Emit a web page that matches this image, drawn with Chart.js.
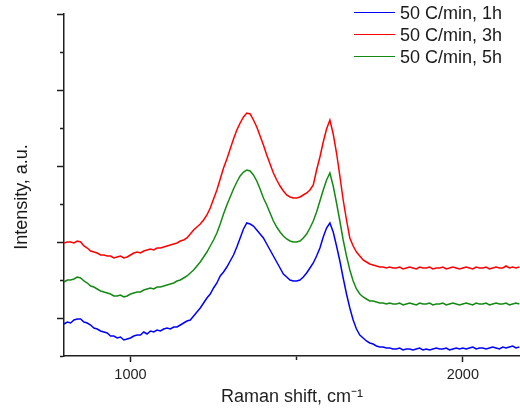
<!DOCTYPE html>
<html>
<head>
<meta charset="utf-8">
<script src="https://cdn.jsdelivr.net/npm/chart.js@4.4.1/dist/chart.umd.min.js"></script>
<style>
  html, body { margin: 0; padding: 0; background: #fff; }
  #wrap { position: relative; width: 520px; height: 417px; overflow: hidden; font-family: "Liberation Sans", Arial, sans-serif; color: #1a1a1a; }
  canvas { position: absolute; left: 0; top: 0; }
  .ytitle { position: absolute; left: 21px; top: 197px; width: 200px; height: 18px; line-height: 18px; font-size: 18px; text-align: center; white-space: nowrap; transform: translate(-50%, -50%) rotate(-90deg); }
  .leg { position: absolute; left: 354px; height: 18px; width: 170px; }
  .leg .ln { position: absolute; left: 0; top: 8px; width: 41px; height: 0; border-top: 1.6px solid; }
  .leg .tx { position: absolute; left: 46px; top: 0; line-height: 18px; font-size: 18px; white-space: nowrap; }
</style>
</head>
<body>
<div id="wrap">
  <canvas id="c" width="520" height="417"></canvas>
  <div class="ytitle">Intensity, a.u.</div>
  <div id="legend"></div>
</div>
<script>
// Raman shift (cm-1)
const ramanShift = [
  800,810,820,830,840,850,860,870,880,890,
  900,910,920,930,940,950,960,970,980,990,
  1000,1010,1020,1030,1040,1050,1060,1070,1080,1090,
  1100,1110,1120,1130,1140,1150,1160,1170,1180,1190,
  1200,1210,1220,1230,1240,1250,1260,1270,1280,1290,
  1300,1310,1320,1330,1340,1350,1360,1370,1380,1390,
  1400,1410,1420,1430,1440,1450,1460,1470,1480,1490,
  1500,1510,1520,1530,1540,1550,1560,1570,1580,1590,
  1600,1610,1620,1630,1640,1650,1660,1670,1680,1690,
  1700,1710,1720,1730,1740,1750,1760,1770,1780,1790,
  1800,1810,1820,1830,1840,1850,1860,1870,1880,1890,
  1900,1910,1920,1930,1940,1950,1960,1970,1980,1990,
  2000,2010,2020,2030,2040,2050,2060,2070,2080,2090,
  2100,2110,2120,2130,2140,2150,2160,2170
];
// Intensity (a.u., stacked offsets as in the figure)
const int1h = [
  32,34,33,36,37,37,34,33,31,28,
  27,25,24,23,20,20,18,19,16,17,
  18,20,21,21,24,22,25,24,26,25,
  27,28,27,29,29,31,33,35,36,40,
  44,48,53,58,62,68,73,80,84,89,
  95,101,109,118,127,133,132,130,126,122,
  118,112,106,100,94,88,82,79,76,75,
  75,76,79,83,88,93,100,108,119,128,
  133,124,110,95,78,62,48,36,27,21,
  18,15,13,12,10,9,9,8,8,7,
  7,8,6,7,7,6,7,8,6,7,
  6,7,8,7,7,8,6,7,8,7,
  8,7,8,9,7,8,8,7,8,9,
  8,7,9,8,9,10,8,9
];
const int3h = [
  113,114,114,113,115,114,110,108,105,104,
  103,101,101,100,100,98,99,100,98,99,
  101,103,104,103,105,106,107,106,108,108,
  109,110,111,112,113,115,116,118,122,126,
  129,132,136,141,148,157,166,177,188,197,
  207,217,226,233,239,243,242,236,229,220,
  211,201,192,183,176,170,165,161,159,158,
  158,159,161,163,166,171,186,199,214,227,
  236,222,203,180,156,136,118,110,104,100,
  96,94,92,91,90,89,89,88,89,88,
  88,89,87,88,89,88,87,89,88,88,
  89,87,88,88,89,87,88,89,88,87,
  88,89,88,87,89,88,88,89,87,88,
  89,88,88,90,88,89,88,89
];
const int5h = [
  74,76,76,77,79,78,75,73,70,69,
  67,65,64,63,62,60,60,61,59,60,
  62,63,64,64,66,67,68,67,69,69,
  70,71,72,73,75,76,78,80,83,86,
  90,94,99,104,110,116,123,132,142,151,
  159,167,174,180,184,186,185,181,175,167,
  158,151,143,135,129,124,120,117,115,114,
  114,115,118,122,128,135,144,155,166,176,
  183,170,153,135,116,100,86,75,67,62,
  59,57,55,55,54,53,53,52,53,52,
  52,53,51,52,53,52,51,53,52,52,
  53,51,52,52,53,51,52,53,52,51,
  52,53,52,51,53,52,52,53,51,52,
  53,52,52,53,51,52,53,52
];
const seriesLabels = ['50 C/min, 1h', '50 C/min, 3h', '50 C/min, 5h'];
const seriesColors = ['#0000ff', '#ff0000', '#148a14'];
const xTickValues = [1000, 1500, 2000];
const xTickLabels = ['1000', '', '2000'];
const xMinorTicks = [1500];
const yTickValues = [0, 38, 76, 114, 152, 190, 228, 266, 304, 342];
const yMajorTicks = [38, 114, 190, 266, 342];

const seriesData = [int1h, int3h, int5h];
const datasets = seriesData.map((arr, k) => ({
  label: seriesLabels[k],
  data: ramanShift.map((x, i) => ({ x: x, y: arr[i] })),
  borderColor: seriesColors[k],
  borderWidth: 1.5,
  pointRadius: 0,
  tension: 0,
  fill: false
}));

const FONT = '"Liberation Sans", Arial, sans-serif';
const AX = '#1f1f1f';

new Chart(document.getElementById('c'), {
  type: 'line',
  data: { datasets: datasets },
  options: {
    responsive: false,
    animation: false,
    layout: { padding: { top: 14, right: 0, left: 0, bottom: 0 } },
    plugins: { legend: { display: false }, tooltip: { enabled: false } },
    scales: {
      x: {
        type: 'linear', min: 800, max: 2172,
        afterBuildTicks: s => { s.ticks = xTickValues.map(v => ({ value: v })); },
        afterFit: s => { s.height = 61; },
        ticks: {
          autoSkip: false, maxRotation: 0, padding: 4, color: AX,
          font: { family: FONT, size: 14.5 },
          callback: (v) => { const i = xTickValues.indexOf(v); return i >= 0 ? xTickLabels[i] : ''; }
        },
        grid: {
          drawOnChartArea: false, drawTicks: true, tickLength: 6, tickWidth: 1.5, tickColor: AX,
          tickBorderDash: ctx => (ctx.tick && xMinorTicks.includes(ctx.tick.value)) ? [3.5, 20] : []
        },
        border: { display: true, color: AX, width: 1.5 },
        title: { display: true, text: 'Raman shift, cm\u207B\u00B9', color: AX, font: { family: FONT, size: 18 }, padding: { top: 0, bottom: 9 } }
      },
      y: {
        min: 0, max: 342,
        afterBuildTicks: s => { s.ticks = yTickValues.map(v => ({ value: v })); },
        afterFit: s => { s.width = 64; },
        ticks: { display: false },
        grid: {
          drawOnChartArea: false, drawTicks: true, tickLength: 7, tickWidth: 1.5, tickColor: AX,
          tickBorderDash: ctx => (ctx.tick && !yMajorTicks.includes(ctx.tick.value)) ? [0, 3, 4, 20] : []
        },
        border: { display: true, color: AX, width: 1.5 }
      }
    }
  }
});

// legend (overlaid inside the plot, top right)
const legendRows = [13, 35, 57];
const legend = document.getElementById('legend');
seriesLabels.forEach((lab, k) => {
  const row = document.createElement('div');
  row.className = 'leg';
  row.style.top = (legendRows[k] - 9) + 'px';
  const ln = document.createElement('div');
  ln.className = 'ln';
  ln.style.borderTopColor = seriesColors[k];
  const tx = document.createElement('div');
  tx.className = 'tx';
  tx.textContent = lab;
  row.appendChild(ln); row.appendChild(tx);
  legend.appendChild(row);
});
</script>
</body>
</html>
